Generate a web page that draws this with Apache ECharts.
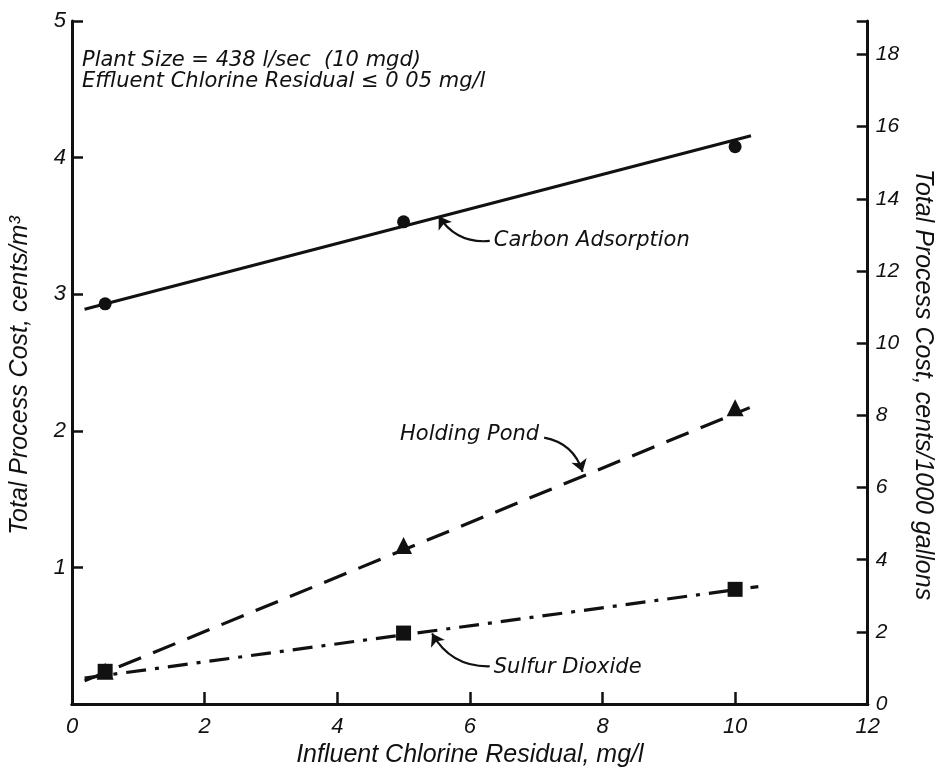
<!DOCTYPE html>
<html>
<head>
<meta charset="utf-8">
<script src="https://cdn.jsdelivr.net/npm/echarts@6/dist/echarts.min.js"></script>
<style>html,body{margin:0;padding:0;background:#fff;}#c{width:943px;height:773px;}</style>
</head>
<body>
<div id="c"></div>
<script>
// ---- data ----
var xTicks = [0, 2, 4, 6, 8, 10, 12];
var leftTicks = [0, 1, 2, 3, 4, 5];
var rightTicks = [0, 2, 4, 6, 8, 10, 12, 14, 16, 18];
var GAL_PER_M3 = 3.785; // cents/m3 -> cents/1000 gallons

var carbonX = [0.5, 5, 10];
var carbonY = [2.93, 3.53, 4.08];
var carbonFitX = [0.19, 10.24];
var carbonFitY = [2.89, 4.16];

var pondX = [0.5, 5, 10];
var pondY = [0.24, 1.16, 2.17];
var pondFitX = [0.19, 10.22];
var pondFitY = [0.17, 2.17];

var sulfurX = [0.5, 5, 10];
var sulfurY = [0.24, 0.52, 0.84];
var sulfurFitX = [0.19, 10.35];
var sulfurFitY = [0.19, 0.86];

var seriesNames = ['Carbon Adsorption', 'Holding Pond', 'Sulfur Dioxide'];
// annotation arrows (from label to line), in data units
var arrowFrom = [[6.30, 3.39], [7.12, 1.95], [6.30, 0.277]];
var arrowTo = [[5.53, 3.57], [7.70, 1.70], [5.43, 0.517]];

var noteLines = ['Plant Size = 438 l/sec  (10 mgd)', 'Effluent Chlorine Residual \u2264 0 05 mg/l'];

function pairs(xs, ys) { return xs.map(function (x, i) { return [x, ys[i]]; }); }

var FONT = '"Liberation Sans", Arial, sans-serif';
var NOTEFONT = '"DejaVu Sans", "Liberation Sans", sans-serif';
var INK = '#111';
var chart = echarts.init(document.getElementById('c'), null, {renderer: 'canvas'});

var option = {
  backgroundColor: '#fff',
  animation: false,
  grid: {left: 65, right: 62, top: 21, bottom: 65, containLabel: false},
  xAxis: [{
    type: 'value', min: xTicks[0], max: xTicks[xTicks.length - 1], interval: 2,
    name: 'Influent Chlorine Residual, mg/l', nameLocation: 'middle', nameGap: 38,
    nameTextStyle: {fontFamily: FONT, fontStyle: 'italic', fontSize: 25, color: INK},
    axisLine: {show: true, onZero: false, lineStyle: {color: INK, width: 3}},
    axisTick: {show: true, inside: true, length: 12, lineStyle: {color: INK, width: 2.5}},
    axisLabel: {fontFamily: FONT, fontStyle: 'italic', fontSize: 22, color: INK, margin: 12},
    splitLine: {show: false}
  }, {
    type: 'value', position: 'top', min: 0, max: 12, interval: 2,
    axisLine: {show: true, lineStyle: {color: INK, width: 3}},
    axisTick: {show: false}, axisLabel: {show: false}, splitLine: {show: false}
  }],
  yAxis: [{
    type: 'value', min: leftTicks[0], max: leftTicks[leftTicks.length - 1], interval: 1,
    name: 'Total Process Cost, cents/m\u00B3', nameLocation: 'middle', nameGap: 39, nameRotate: 90,
    nameTextStyle: {fontFamily: FONT, fontStyle: 'italic', fontSize: 25, color: INK, padding: [0, 26, 0, 0]},
    axisLine: {show: true, onZero: false, lineStyle: {color: INK, width: 3}},
    axisTick: {show: true, inside: true, length: 11, lineStyle: {color: INK, width: 2.5}},
    axisLabel: {fontFamily: FONT, fontStyle: 'italic', fontSize: 22, color: INK, margin: 6,
      formatter: function (v) { return v === 0 ? '' : String(v); }},
    splitLine: {show: false}
  }, {
    type: 'value', position: 'right', min: 0, max: leftTicks[leftTicks.length - 1] * GAL_PER_M3, interval: 2,
    name: 'Total Process Cost, cents/1000 gallons', nameLocation: 'middle', nameGap: 41, nameRotate: -90,
    nameTextStyle: {fontFamily: FONT, fontStyle: 'italic', fontSize: 25, color: INK, padding: [0, 0, 0, 44]},
    axisLine: {show: true, onZero: false, lineStyle: {color: INK, width: 3}},
    axisTick: {show: true, inside: true, length: 11, lineStyle: {color: INK, width: 2.5},
      interval: function (i, v) { return rightTicks.indexOf(Math.round(v * 1000) / 1000) >= 0; }},
    axisLabel: {fontFamily: FONT, fontStyle: 'italic', fontSize: 21, color: INK, margin: 8,
      formatter: function (v) { return rightTicks.indexOf(Math.round(v * 1000) / 1000) >= 0 ? String(v) : ''; }},
    splitLine: {show: false}
  }],
  series: [
    {name: seriesNames[0] + ' fit', type: 'line', data: pairs(carbonFitX, carbonFitY), showSymbol: false, symbol: 'none',
      lineStyle: {color: INK, width: 3, type: 'solid'}, z: 2},
    {name: seriesNames[0], type: 'scatter', data: pairs(carbonX, carbonY), symbol: 'circle', symbolSize: 13,
      itemStyle: {color: INK, opacity: 1}, z: 3},
    {name: seriesNames[1] + ' fit', type: 'line', data: pairs(pondFitX, pondFitY), showSymbol: false, symbol: 'none',
      lineStyle: {color: INK, width: 3.2, type: [24, 13]}, z: 2},
    {name: seriesNames[1], type: 'scatter', data: pairs(pondX, pondY), symbol: 'triangle', symbolSize: 17,
      itemStyle: {color: INK, opacity: 1}, z: 3},
    {name: seriesNames[2] + ' fit', type: 'line', data: pairs(sulfurFitX, sulfurFitY), showSymbol: false, symbol: 'none',
      lineStyle: {color: INK, width: 3.2, type: [20, 9, 4, 9]}, z: 2},
    {name: seriesNames[2], type: 'scatter', data: pairs(sulfurX, sulfurY), symbol: 'rect', symbolSize: 15,
      itemStyle: {color: INK, opacity: 1}, z: 4},
    {name: 'arrows', type: 'lines', coordinateSystem: 'cartesian2d', symbol: ['none', 'arrow'], symbolSize: 12,
      lineStyle: {color: INK, width: 2.2, curveness: 0.3, opacity: 1},
      data: arrowFrom.map(function (f, i) { return {coords: [f, arrowTo[i]]}; }), z: 5}
  ]
};
chart.setOption(option);

// text annotations placed from data coordinates of the arrow tails
var p0 = chart.convertToPixel({gridIndex: 0}, arrowFrom[0]);
var p1 = chart.convertToPixel({gridIndex: 0}, arrowFrom[1]);
var p2 = chart.convertToPixel({gridIndex: 0}, arrowFrom[2]);
var ts = {fontFamily: NOTEFONT, fontStyle: 'italic', fontSize: 21, fill: INK};
chart.setOption({
  graphic: [
    {type: 'text', left: 82, top: 50, style: Object.assign({text: noteLines[0]}, ts)},
    {type: 'text', left: 82, top: 71, style: Object.assign({text: noteLines[1]}, ts)},
    {type: 'text', x: p0[0] + 4, y: p0[1], style: Object.assign({text: seriesNames[0], verticalAlign: 'middle', align: 'left'}, ts)},
    {type: 'text', x: p1[0] - 5, y: p1[1] - 3, style: Object.assign({text: seriesNames[1], verticalAlign: 'middle', align: 'right'}, ts)},
    {type: 'text', x: p2[0] + 4, y: p2[1] + 1, style: Object.assign({text: seriesNames[2], verticalAlign: 'middle', align: 'left'}, ts)}
  ]
});
</script>
</body>
</html>
